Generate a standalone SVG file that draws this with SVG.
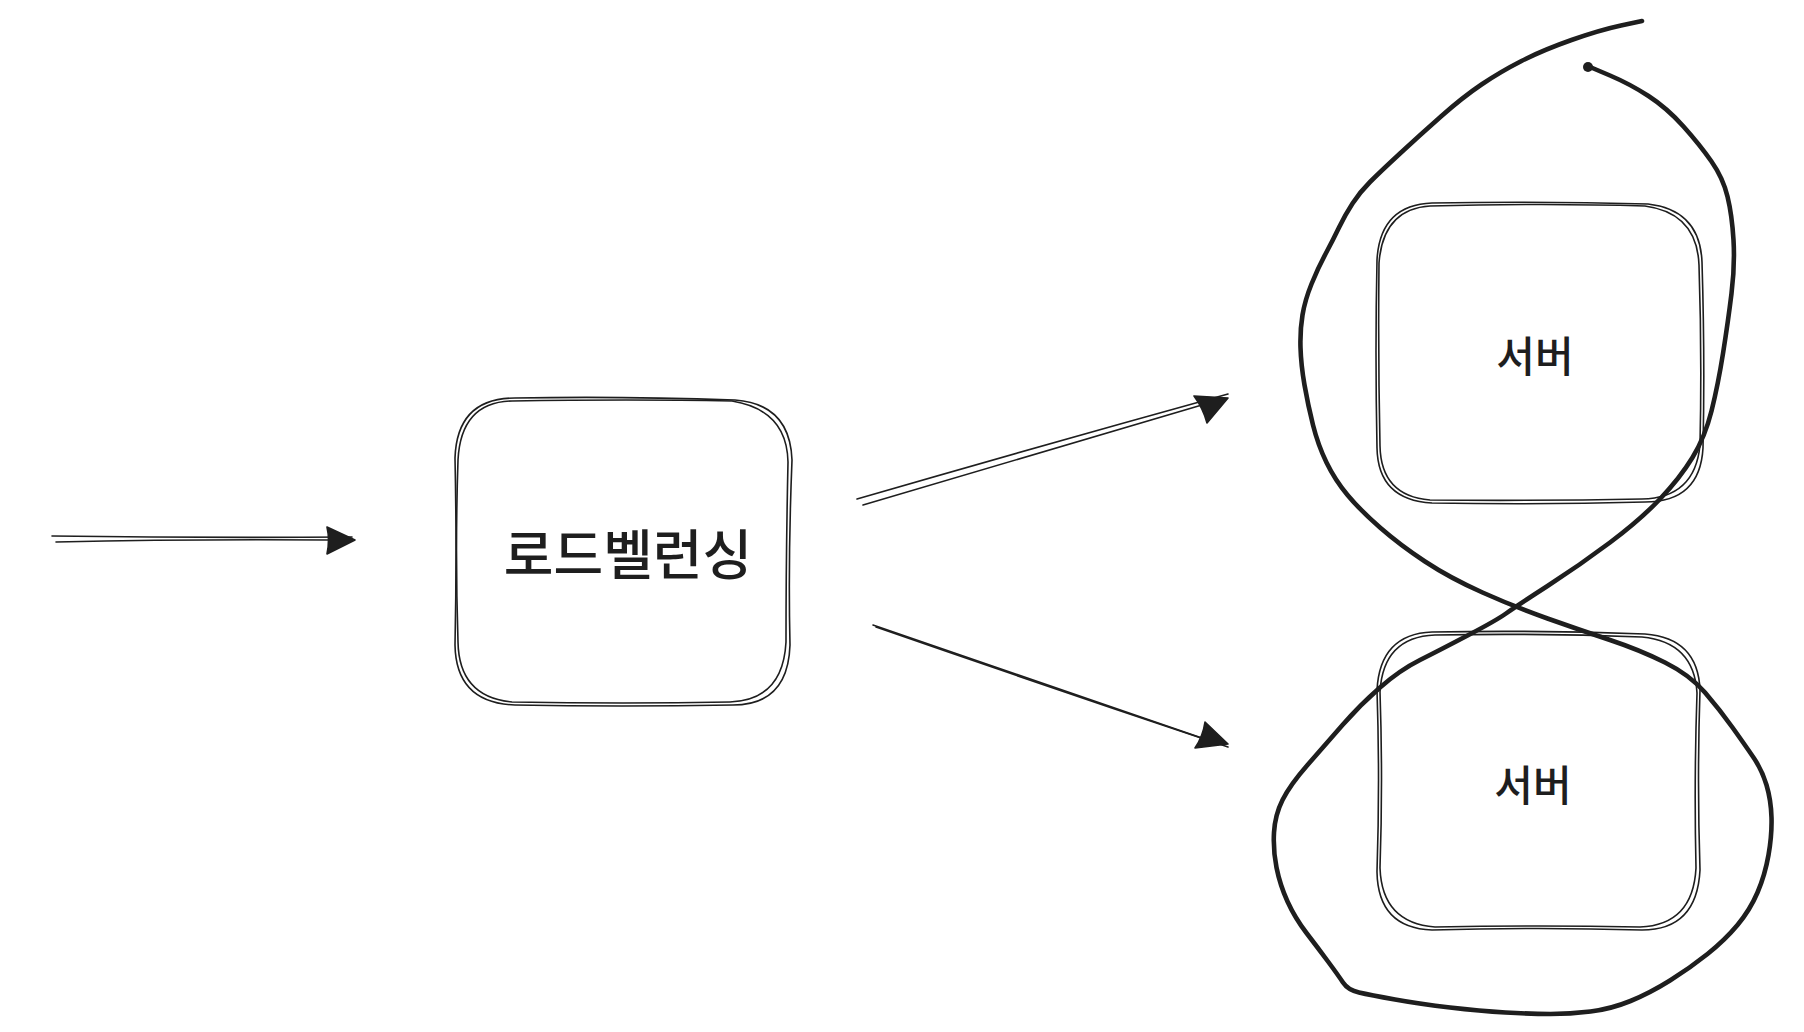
<svg xmlns="http://www.w3.org/2000/svg" width="1804" height="1032" viewBox="0 0 1804 1032">
<style>
.box{fill:none;stroke:#1e1e1e;stroke-width:1.6;stroke-linecap:round;stroke-linejoin:round}
.ln{fill:none;stroke:#1e1e1e;stroke-width:1.6;stroke-linecap:round}
.head{fill:#1e1e1e;stroke:#1e1e1e;stroke-width:1.6;stroke-linejoin:round}
.loop{fill:none;stroke:#1e1e1e;stroke-width:4.6;stroke-linecap:round;stroke-linejoin:round}
.lbl{font-family:"Noto Sans CJK KR","Noto Sans",sans-serif;fill:#1e1e1e;text-anchor:middle;dominant-baseline:central}
</style>
<rect width="1804" height="1032" fill="#ffffff"/>
<g id="connectors">
  <g id="arrow-in">
    <path class="ln" d="M52 536 Q200 538 352 537"/>
    <path class="ln" d="M56 542 Q190 539 330 540"/>
    <path class="head" d="M327 527 L355 540 L327 554 Q330 540 327 527 Z"/>
  </g>
  <g id="arrow-up">
    <path class="ln" d="M857 499 Q1040 446 1228 394"/>
    <path class="ln" d="M863 505 Q1040 453 1212 402"/>
    <path class="head" d="M1194 396 L1228 398 L1207 423 Q1203 408 1194 396 Z"/>
  </g>
  <g id="arrow-down">
    <path class="ln" d="M873 625 Q1050 686 1228 747"/>
    <path class="ln" d="M876 627 Q1040 684 1210 741"/>
    <path class="head" d="M1205 722 L1228 744 L1195 748 Q1203 736 1205 722 Z"/>
  </g>
</g>
<g id="node-lb">
  <path class="box" d="M515 398 Q620 396 735 400 Q790 404 792 460 Q788 560 790 645 Q788 705 733 705 Q620 707 515 705 Q456 703 455 645 Q457 550 455 458 Q457 398 515 398 Z"/>
  <path class="box" d="M512 401 Q630 399 732 401 Q787 410 788 462 Q786 555 786 642 Q783 700 730 702 Q625 704 512 702 Q459 697 458 642 Q455 550 458 460 Q461 402 512 401 Z"/>
  <text class="lbl" x="628" y="551" font-size="54" font-weight="500">로드벨런싱</text>
</g>
<g id="node-server1">
  <path class="box" d="M1432 203 Q1540 201 1648 204 Q1700 210 1702 262 Q1705 360 1703 448 Q1700 502 1645 502 Q1540 505 1432 503 Q1378 500 1377 448 Q1375 350 1377 260 Q1380 205 1432 203 Z"/>
  <path class="box" d="M1430 206 Q1545 203 1645 206 Q1697 213 1699 265 Q1702 355 1700 445 Q1695 498 1642 499 Q1535 501 1430 500 Q1381 496 1380 446 Q1378 355 1379 263 Q1383 209 1430 206 Z"/>
  <text class="lbl" x="1535" y="353" font-size="42" font-weight="500">서버</text>
</g>
<g id="node-server2">
  <path class="box" d="M1432 632 Q1540 630 1645 634 Q1698 638 1700 690 Q1697 780 1700 870 Q1697 930 1642 930 Q1540 927 1432 930 Q1378 928 1377 872 Q1380 780 1377 690 Q1380 634 1432 632 Z"/>
  <path class="box" d="M1435 635 Q1540 633 1642 637 Q1694 642 1697 693 Q1694 780 1696 868 Q1693 925 1640 927 Q1540 925 1435 927 Q1382 923 1380 868 Q1383 780 1380 692 Q1383 637 1435 635 Z"/>
  <text class="lbl" x="1533" y="782" font-size="42" font-weight="500">서버</text>
</g>
<g id="loop">
  <path class="loop" d="M1642 21 L1621 25.5 Q1600 30 1571.5 40 Q1543 50 1521.5 61 Q1500 72 1481.5 84.5 Q1463 97 1441.5 116 Q1420 135 1400 153.5 Q1380 172 1370 182 Q1360 192 1352.5 203.5 Q1345 215 1339 227.5 Q1333 240 1325.5 254 Q1318 268 1311.5 284 Q1305 300 1302.5 315 Q1300 330 1300.5 347.5 Q1301 365 1304.5 385 Q1308 405 1313 425 Q1318 445 1326.5 462.5 Q1335 480 1347.5 495 Q1360 510 1380 527.5 Q1400 545 1425 561.5 Q1450 578 1482.5 592.5 Q1515 607 1547.5 618.5 Q1580 630 1610 640 Q1640 650 1665 662.5 Q1690 675 1705 692.5 Q1720 710 1732.5 727.5 Q1745 745 1753.5 757.5 Q1762 770 1766.5 785 Q1771 800 1771.5 817.5 Q1772 835 1768.5 855 Q1765 875 1757.5 892.5 Q1750 910 1737.5 925 Q1725 940 1707.5 954 Q1690 968 1670 980.5 Q1650 993 1630.5 1001 Q1611 1009 1590.5 1011.5 Q1570 1014 1550.5 1014 Q1531 1014 1505.5 1012.5 Q1480 1011 1450 1007.5 Q1420 1004 1395 999.5 Q1370 995 1359 992.5 Q1348 990 1343 982.5 Q1338 975 1328 961.5 Q1318 948 1306.5 933 Q1295 918 1287.5 901.5 Q1280 885 1276.5 867.5 Q1273 850 1274 832.5 Q1275 815 1282.5 800 Q1290 785 1307.5 765 Q1325 745 1342.5 725 Q1360 705 1380 687.5 Q1400 670 1420 660 Q1440 650 1468.5 635 Q1497 620 1506 613.5 Q1515 607 1547.5 586 Q1580 565 1610 542.5 Q1640 520 1660 499 Q1680 478 1692.5 457.5 Q1705 437 1711.5 411 Q1718 385 1723 353.5 Q1728 322 1731.5 293.5 Q1735 265 1733.5 240 Q1732 215 1727.5 196.5 Q1723 178 1711.5 161.5 Q1700 145 1683.5 126.5 Q1667 108 1648.5 96 Q1630 84 1610 75.5 L1590 67"/>
  <circle cx="1588" cy="67" r="5" fill="#1e1e1e"/>
</g>
</svg>
